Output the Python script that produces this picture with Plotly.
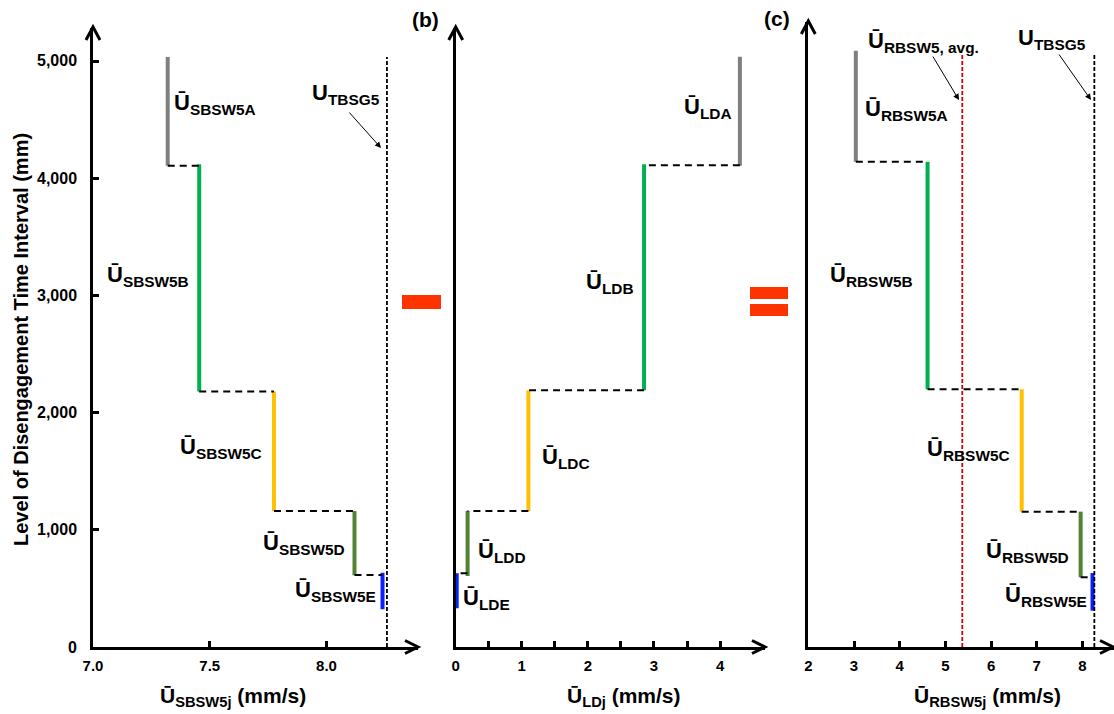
import plotly.graph_objects as go

W, H = 1114, 714


def px(x):
    return x / W


def py(y):
    return 1 - y / H


# ---------------- data ----------------
stages = ["A", "B", "C", "D", "E"]
stage_colors = ["#7f7f7f", "#00b050", "#ffc000", "#548235", "#0a1eff"]

# (a) SBSW5
sbsw_x = [7.32, 7.455, 7.775, 8.12, 8.24]
sbsw_top = [5035, 4120, 2180, 1160, 634]
sbsw_bot = [4107, 2180, 1160, 612, 322]
sbsw_step = [4107, 2180, 1160, 614]
u_tbsg5_a = 8.259
ref_top_a = 5035

# (b) LD
ld_x = [4.30, 2.85, 1.10, 0.18, 0.015]
ld_top = [5037, 4119, 2190, 1160, 629]
ld_bot = [4107, 2190, 1160, 606, 330]
ld_step = [4110, 2190, 1160, 629]

# (c) RBSW5
rbsw_x = [3.04, 4.61, 6.67, 7.96, 8.22]
rbsw_top = [5088, 4141, 2199, 1155, 631]
rbsw_bot = [4141, 2199, 1155, 595, 310]
rbsw_step = [4141, 2199, 1155, 595]
rbsw_avg = 5.37
u_tbsg5_c = 8.26
ref_top_c = 5051

y_ticks = [0, 1000, 2000, 3000, 4000, 5000]
y_ticktext = ["0", "1,000", "2,000", "3,000", "4,000", "5,000"]
xa_ticks = [7.0, 7.5, 8.0]
xa_ticktext = ["7.0", "7.5", "8.0"]
xb_ticks = [0, 0.5, 1, 1.5, 2, 2.5, 3, 3.5, 4]
xb_ticktext = ["0", "", "1", "", "2", "", "3", "", "4"]
xc_ticks = [2, 3, 4, 5, 6, 7, 8]
xc_ticktext = ["2", "3", "4", "5", "6", "7", "8"]

FONT = "Liberation Sans, Arial, sans-serif"

fig = go.Figure()


def add_panel(xs, tops, bots, steps, xa, ya):
    for i in range(len(xs)):
        fig.add_trace(go.Scatter(
            x=[xs[i], xs[i]], y=[bots[i], tops[i]], mode="lines",
            line=dict(color=stage_colors[i], width=4),
            xaxis=xa, yaxis=ya, showlegend=False, hoverinfo="skip"))
    for i in range(len(steps)):
        fig.add_trace(go.Scatter(
            x=[xs[i], xs[i + 1]], y=[steps[i], steps[i]], mode="lines",
            line=dict(color="black", width=2, dash="7px,5px"),
            xaxis=xa, yaxis=ya, showlegend=False, hoverinfo="skip"))


add_panel(sbsw_x, sbsw_top, sbsw_bot, sbsw_step, "x", "y")
add_panel(ld_x, ld_top, ld_bot, ld_step, "x2", "y2")
add_panel(rbsw_x, rbsw_top, rbsw_bot, rbsw_step, "x3", "y3")

# reference lines
fig.add_trace(go.Scatter(x=[u_tbsg5_a, u_tbsg5_a], y=[0, ref_top_a], mode="lines",
                         line=dict(color="black", width=1.8, dash="4px,2px"),
                         xaxis="x", yaxis="y", showlegend=False, hoverinfo="skip"))
fig.add_trace(go.Scatter(x=[rbsw_avg, rbsw_avg], y=[0, ref_top_c], mode="lines",
                         line=dict(color="#d00000", width=1.8, dash="4px,2px"),
                         xaxis="x3", yaxis="y3", showlegend=False, hoverinfo="skip"))
fig.add_trace(go.Scatter(x=[u_tbsg5_c, u_tbsg5_c], y=[0, ref_top_c], mode="lines",
                         line=dict(color="black", width=1.8, dash="4px,2px"),
                         xaxis="x3", yaxis="y3", showlegend=False, hoverinfo="skip"))

xtickfont = dict(family=FONT, size=15, color="black", weight="bold")
ytickfont = dict(family=FONT, size=16, color="black", weight="bold")
common_x = dict(showline=True, linewidth=3, linecolor="black", ticks="inside",
                ticklen=6, tickwidth=3, tickcolor="black", showgrid=False,
                zeroline=False, tickfont=xtickfont, ticklabelstandoff=3,
                automargin=False)
common_y = dict(showline=True, linewidth=3, linecolor="black", showgrid=False,
                zeroline=False, automargin=False)

y_top_ab = (647 - 28) / 117.2 * 1000
y_top_c = (647 - 22) / 117.2 * 1000

fig.update_layout(
    width=W, height=H, margin=dict(l=0, r=0, t=0, b=0, autoexpand=False),
    plot_bgcolor="white", paper_bgcolor="white",
    xaxis=dict(domain=[px(93), px(418)], range=[7.0, 8.392], anchor="y",
               tickvals=xa_ticks, ticktext=xa_ticktext, **common_x),
    yaxis=dict(domain=[py(647), py(28)], range=[0, y_top_ab], anchor="x",
               tickvals=y_ticks, showticklabels=False, ticks="inside", ticklen=6,
               tickwidth=3, tickcolor="black", **common_y),
    xaxis2=dict(domain=[px(455.7), px(765)], range=[0, 4.68], anchor="y2",
                tickvals=xb_ticks, ticktext=xb_ticktext, **common_x),
    yaxis2=dict(domain=[py(647), py(28)], range=[0, y_top_ab], anchor="x2",
                showticklabels=False, ticks="", **common_y),
    xaxis3=dict(domain=[px(808.3), 1.0], range=[2, 8.69], anchor="y3",
                tickvals=xc_ticks, ticktext=xc_ticktext, **common_x),
    yaxis3=dict(domain=[py(647), py(22)], range=[0, y_top_c], anchor="x3",
                showticklabels=False, ticks="", **common_y),
)

shapes = []


def chevron(tx, ty, direction):
    if direction == "right":
        d = f"M {px(tx-13)},{py(ty-6.5)} L {px(tx)},{py(ty)} L {px(tx-13)},{py(ty+6.5)}"
    else:
        d = f"M {px(tx-7)},{py(ty+13)} L {px(tx)},{py(ty)} L {px(tx+7)},{py(ty+13)}"
    shapes.append(dict(type="path", path=d, xref="paper", yref="paper",
                       line=dict(color="black", width=3)))


chevron(418, 647, "right")
chevron(93, 27, "up")
chevron(765, 647, "right")
chevron(455.7, 27, "up")
chevron(1113, 647, "right")
chevron(808.3, 21, "up")

# minus and equals signs
for (x0, x1, y0, y1) in [(402, 441, 295, 309), (750, 788, 287, 299), (750, 788, 304, 316)]:
    shapes.append(dict(type="rect", xref="paper", yref="paper",
                       x0=px(x0), x1=px(x1), y0=py(y1), y1=py(y0),
                       fillcolor="#ff3300", line=dict(width=0)))
fig.update_layout(shapes=shapes)

ann = []
# y tick labels of panel (a)
for v, t in zip(y_ticks, y_ticktext):
    ann.append(dict(text=t, x=px(79), y=v, xref="paper", yref="y",
                    xanchor="right", yanchor="middle", showarrow=False,
                    font=ytickfont))

labels = [
    ("Ū<sub>SBSW5A</sub>", 215, 104),
    ("Ū<sub>SBSW5B</sub>", 148, 276),
    ("Ū<sub>SBSW5C</sub>", 221, 448),
    ("Ū<sub>SBSW5D</sub>", 304, 544),
    ("Ū<sub>SBSW5E</sub>", 335, 591),
    ("U<sub>TBSG5</sub>", 346, 94),
    ("Ū<sub>LDA</sub>", 708, 108),
    ("Ū<sub>LDB</sub>", 610, 283),
    ("Ū<sub>LDC</sub>", 566, 458),
    ("Ū<sub>LDD</sub>", 502, 552),
    ("Ū<sub>LDE</sub>", 486, 599),
    ("Ū<sub>RBSW5, avg.</sub>", 923, 42),
    ("U<sub>TBSG5</sub>", 1052, 39),
    ("Ū<sub>RBSW5A</sub>", 906, 110),
    ("Ū<sub>RBSW5B</sub>", 871, 276),
    ("Ū<sub>RBSW5C</sub>", 968, 450),
    ("Ū<sub>RBSW5D</sub>", 1027, 552),
    ("Ū<sub>RBSW5E</sub>", 1046, 596),
]
for text, cx, cy in labels:
    ann.append(dict(text=text, x=px(cx), y=py(cy), xref="paper", yref="paper",
                    xanchor="center", yanchor="middle", showarrow=False,
                    font=dict(family=FONT, size=22, color="black", weight="bold")))

# pointer arrows
for (tx, ty, sx, sy) in [(381, 148, 348, 111), (959, 100, 932, 55), (1091, 100, 1058, 53)]:
    ann.append(dict(text="", x=px(tx), y=py(ty), xref="paper", yref="paper",
                    ax=sx - tx, ay=sy - ty, axref="pixel", ayref="pixel",
                    showarrow=True, arrowhead=2, arrowsize=1.2, arrowwidth=1,
                    arrowcolor="black"))

# panel letters
for text, cx, cy in [("(b)", 425, 19), ("(c)", 777, 18)]:
    ann.append(dict(text=text, x=px(cx), y=py(cy), xref="paper", yref="paper",
                    xanchor="center", yanchor="middle", showarrow=False,
                    font=dict(family=FONT, size=21, color="black", weight="bold")))

# axis titles
for text, cx, cy in [("Ū<sub>SBSW5j</sub> (mm/s)", 233, 697),
                     ("Ū<sub>LDj</sub> (mm/s)", 624, 697),
                     ("Ū<sub>RBSW5j</sub> (mm/s)", 987, 697)]:
    ann.append(dict(text=text, x=px(cx), y=py(cy), xref="paper", yref="paper",
                    xanchor="center", yanchor="middle", showarrow=False,
                    font=dict(family=FONT, size=21, color="black", weight="bold")))
ann.append(dict(text="Level of Disengagement Time Interval (mm)", x=px(21), y=py(340),
                xref="paper", yref="paper", xanchor="center", yanchor="middle",
                textangle=-90, showarrow=False,
                font=dict(family=FONT, size=20, color="black", weight="bold")))
fig.update_layout(annotations=ann)

fig.write_html("out.html")
